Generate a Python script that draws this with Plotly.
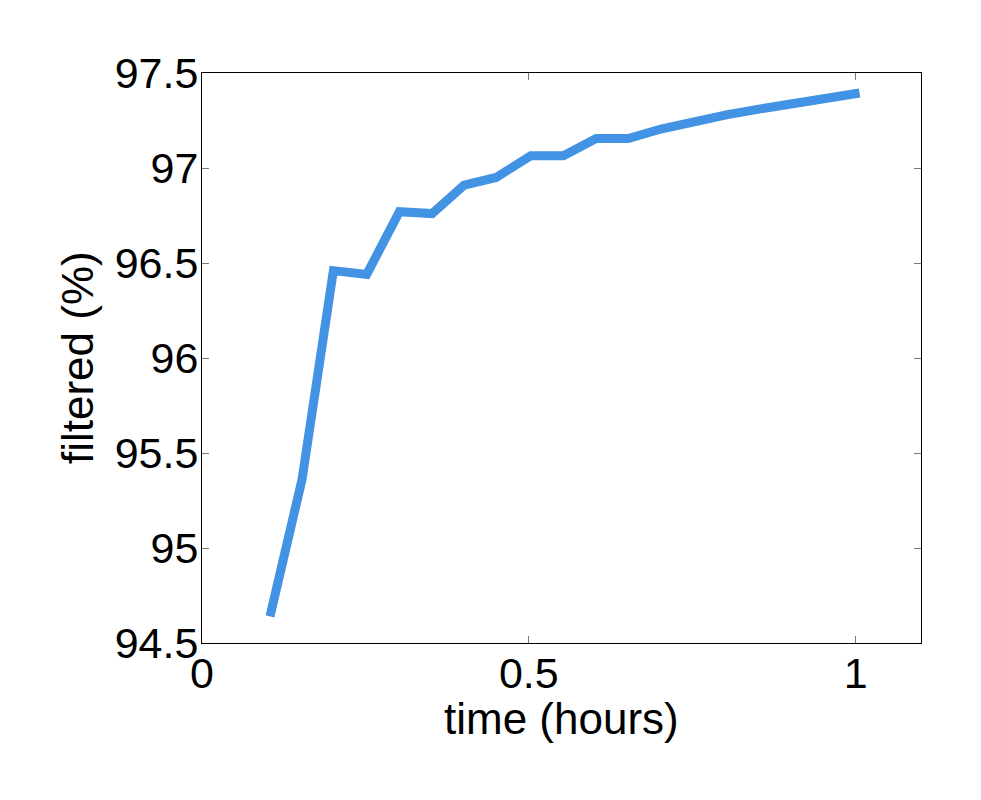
import plotly.graph_objects as go

# time in hours vs filtered percentage
time_hours = [0.104, 0.153, 0.201, 0.252, 0.302, 0.352, 0.401, 0.450, 0.503,
              0.553, 0.603, 0.652, 0.702, 0.752, 0.802, 0.852, 0.902, 0.952, 1.006]
filtered_pct = [94.64, 95.36, 96.46, 96.44, 96.77, 96.76, 96.91, 96.95, 97.065,
                97.065, 97.155, 97.155, 97.205, 97.245, 97.28, 97.31, 97.34, 97.37, 97.395]

x_ticks = [0, 0.5, 1]
x_tick_labels = ["0", "0.5", "1"]
y_ticks = [94.5, 95, 95.5, 96, 96.5, 97, 97.5]
y_tick_labels = ["94.5", "95", "95.5", "96", "96.5", "97", "97.5"]

fig = go.Figure()
fig.add_trace(go.Scatter(
    x=time_hours, y=filtered_pct,
    mode="lines",
    line=dict(color="#4393e4", width=9),
    showlegend=False,
))

tick_font = dict(family="Liberation Sans, Arial, sans-serif", size=43, color="black")
title_font = dict(family="Liberation Sans, Arial, sans-serif", size=44, color="black")

# the page body adds 8px, so margins are shifted by that
fig.update_layout(
    width=981, height=800,
    margin=dict(l=194, r=68, t=65, b=165),
    plot_bgcolor="white",
    paper_bgcolor="white",
    font=tick_font,
    xaxis=dict(
        range=[0, 1.1],
        tickvals=x_ticks, ticktext=x_tick_labels,
        ticks="inside", ticklen=7, tickcolor="#777777", tickwidth=1,
        showline=True, linecolor="black", linewidth=1, mirror="ticks",
        showgrid=False, zeroline=False,
        tickfont=tick_font, ticklabelstandoff=-8,
        automargin=False,
    ),
    yaxis=dict(
        range=[94.5, 97.5],
        tickvals=y_ticks, ticktext=y_tick_labels,
        ticks="inside", ticklen=7, tickcolor="#777777", tickwidth=1,
        showline=True, linecolor="black", linewidth=1, mirror="ticks",
        showgrid=False, zeroline=False,
        tickfont=tick_font, ticklabelstandoff=-6,
        automargin=False,
    ),
    annotations=[
        dict(text="time (hours)", xref="paper", yref="paper", x=0.5, y=0,
             xanchor="center", yanchor="middle", yshift=-75,
             showarrow=False, font=title_font),
        dict(text="filtered (%)", xref="paper", yref="paper", x=0, y=0.5,
             xanchor="center", yanchor="middle", xshift=-125, textangle=-90,
             showarrow=False, font=title_font),
    ],
)

fig.write_html("out.html")
